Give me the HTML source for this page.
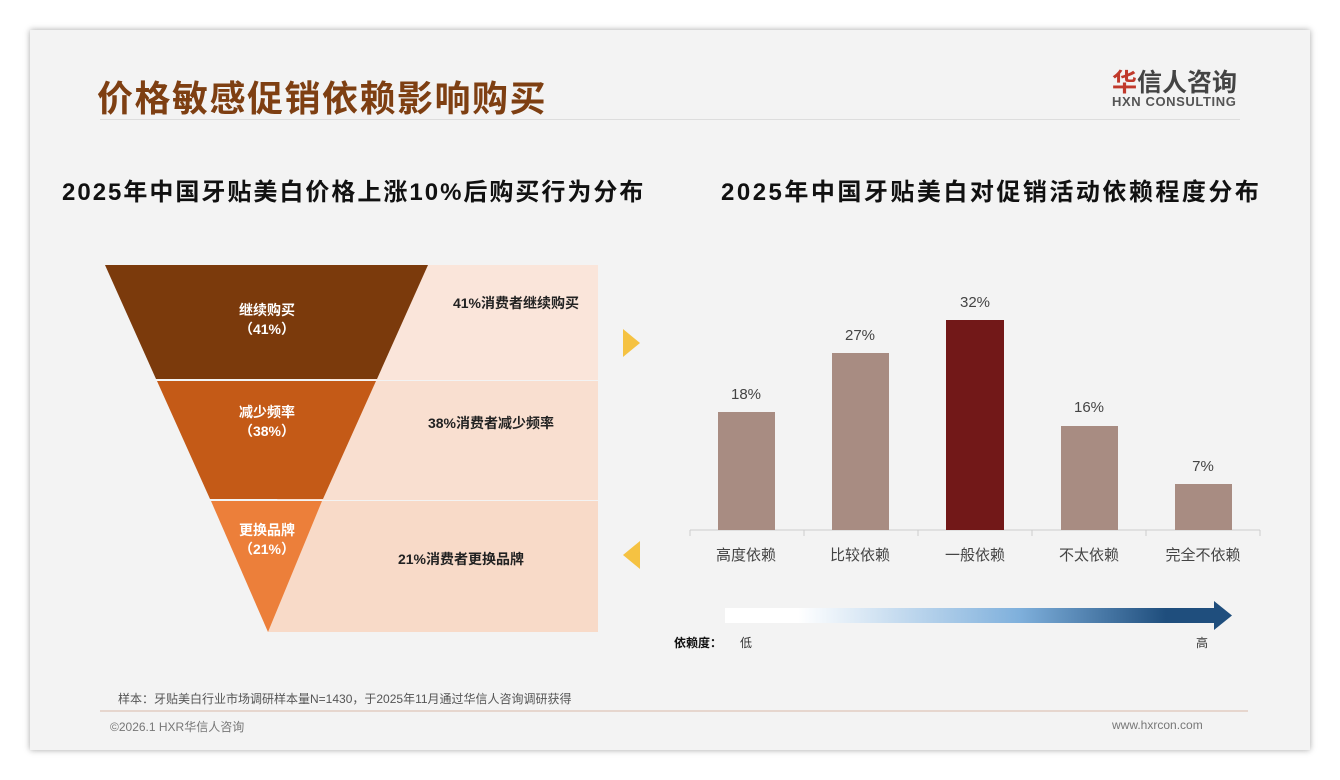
<!DOCTYPE html>
<html><head><meta charset="utf-8"><style>
body{margin:0;width:1340px;height:780px;background:#fff;font-family:"Liberation Sans","Noto Sans CJK SC",sans-serif;position:relative;overflow:hidden}
.card{position:absolute;left:30px;top:30px;width:1280px;height:720px;background:#f3f3f3;box-shadow:0 0 6px rgba(0,0,0,.35)}
.a{position:absolute;white-space:nowrap}
</style></head><body>
<div class="card"></div>
<div class="a" style="left:97px;top:70px;font-size:36px;font-weight:bold;color:#7e3f12;letter-spacing:1.5px">价格敏感促销依赖影响购买</div>
<div class="a" style="left:100px;top:119px;width:1140px;height:1px;background:#ddd"></div>
<div class="a" style="left:1112px;top:63px;font-size:25px;font-weight:bold;color:#444"><span style="color:#c0392b">华</span>信人咨询</div>
<div class="a" style="left:1112px;top:94px;font-size:13px;font-weight:bold;color:#555;letter-spacing:.6px">HXN CONSULTING</div>
<div class="a" style="left:62px;top:172px;font-size:24px;font-weight:bold;color:#111;letter-spacing:2px">2025年中国牙贴美白价格上涨10%后购买行为分布</div>
<div class="a" style="left:721px;top:172px;font-size:24px;font-weight:bold;color:#111;letter-spacing:2.5px">2025年中国牙贴美白对促销活动依赖程度分布</div>
<svg class="a" style="left:0;top:0" width="1340" height="780">
<polygon points="380,265 598,265 598,380 330,380" fill="#fae5da"/>
<polygon points="329,381 598,381 598,500 277,500" fill="#f9dfd0"/>
<polygon points="276,501 598,501 598,632 268,632" fill="#f8dac8"/>
<polygon points="105,265 428,265 377,379 156,379" fill="#7b3a0c"/>
<polygon points="157,381 376,381 323,499 210,499" fill="#c45a17"/>
<polygon points="211,501 322,501 268,632" fill="#ec7f3a"/>
<polygon points="623,329 640,343 623,357" fill="#f5c242"/>
<polygon points="640,541 623,555 640,569" fill="#f5c242"/>
<line x1="690" y1="530" x2="1260" y2="530" stroke="#ccc"/>
<g stroke="#ccc"><line x1="690" y1="530" x2="690" y2="536"/><line x1="804" y1="530" x2="804" y2="536"/><line x1="918" y1="530" x2="918" y2="536"/><line x1="1032" y1="530" x2="1032" y2="536"/><line x1="1146" y1="530" x2="1146" y2="536"/><line x1="1260" y1="530" x2="1260" y2="536"/></g>
<rect x="718" y="412" width="57" height="118" fill="#a88c82"/>
<rect x="832" y="353" width="57" height="177" fill="#a88c82"/>
<rect x="946" y="320" width="58" height="210" fill="#721818"/>
<rect x="1061" y="426" width="57" height="104" fill="#a88c82"/>
<rect x="1175" y="484" width="57" height="46" fill="#a88c82"/>
<g font-size="15" fill="#444" text-anchor="middle" font-family="Liberation Sans,Noto Sans CJK SC,sans-serif">
<text x="746" y="399">18%</text><text x="860" y="340">27%</text><text x="975" y="307">32%</text><text x="1089" y="412">16%</text><text x="1203" y="471">7%</text>
<text x="746" y="560">高度依赖</text><text x="860" y="560">比较依赖</text><text x="975" y="560">一般依赖</text><text x="1089" y="560">不太依赖</text><text x="1203" y="560">完全不依赖</text>
</g>
<defs><linearGradient id="g" x1="0" x2="1"><stop offset="0.15" stop-color="#fff"/><stop offset="0.6" stop-color="#7fb0dc"/><stop offset="0.9" stop-color="#1f4e7d"/></linearGradient></defs>
<rect x="725" y="608" width="490" height="15" fill="url(#g)"/>
<polygon points="1214,601 1232,615.5 1214,630" fill="#1f4e7d"/>
<g font-size="14" fill="#fff" font-weight="bold" text-anchor="middle" font-family="Liberation Sans,Noto Sans CJK SC,sans-serif">
<text x="267" y="315">继续购买</text><text x="267" y="334">（41%）</text>
<text x="267" y="417">减少频率</text><text x="267" y="436">（38%）</text>
<text x="267" y="535">更换品牌</text><text x="267" y="554">（21%）</text>
</g>
<g font-size="14" fill="#222" font-weight="bold" text-anchor="middle" font-family="Liberation Sans,Noto Sans CJK SC,sans-serif">
<text x="516" y="308">41%消费者继续购买</text><text x="491" y="428">38%消费者减少频率</text><text x="461" y="564">21%消费者更换品牌</text>
</g>
<line x1="100" y1="711" x2="1248" y2="711" stroke="#d8b8a8"/>
</svg>
<div class="a" style="left:674px;top:634px;font-size:12px;font-weight:bold;color:#111">依赖度：</div>
<div class="a" style="left:740px;top:634px;font-size:12px;color:#333">低</div>
<div class="a" style="left:1196px;top:634px;font-size:12px;color:#333">高</div>
<div class="a" style="left:118px;top:690px;font-size:12px;color:#555">样本：牙贴美白行业市场调研样本量N=1430，于2025年11月通过华信人咨询调研获得</div>
<div class="a" style="left:110px;top:718px;font-size:12px;color:#777">©2026.1 HXR华信人咨询</div>
<div class="a" style="left:1112px;top:718px;font-size:12px;color:#777">www.hxrcon.com</div>
</body></html>
